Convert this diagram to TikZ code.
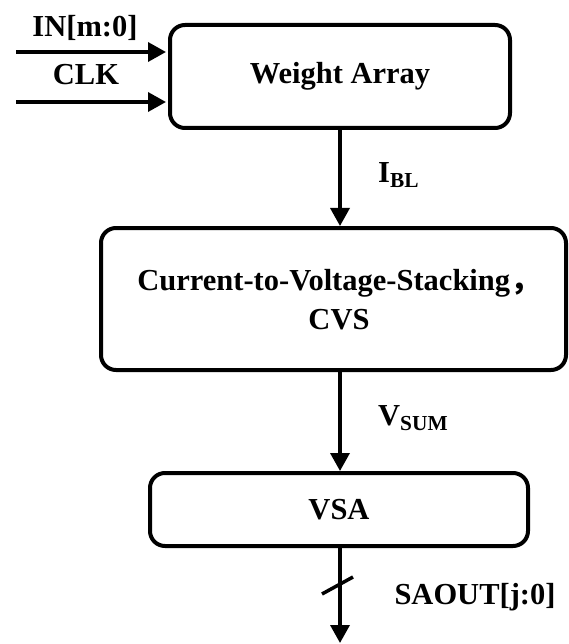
\documentclass[tikz,border=0pt]{standalone}
\usepackage{fontspec}
\setmainfont{Liberation Serif}
\newfontfamily\cjk{Noto Sans CJK SC}
\usepackage{tikz}
\usetikzlibrary{positioning,arrows.meta}

\begin{document}
\begin{tikzpicture}[
  x=1pt, y=-1pt,
  every node/.style={font=\bfseries\fontsize{30.5}{39}\selectfont, inner sep=0pt},
  block/.style={draw, line width=4pt, rounded corners=15pt, align=center},
  wire/.style={line width=3.5pt, -{Triangle[length=18pt,width=19pt]}}
]
\useasboundingbox (0,0) rectangle (568,644);
\node[block, minimum width=340pt, minimum height=103pt] (wa) at (340,76.5) {Weight Array};
\node[block, minimum width=465pt, minimum height=142pt] (cvs) at (333.5,299) {};
\node (cvstext) at (339,300) [align=center] {Current-to-Voltage-Stacking{\cjk ，}\\CVS};
\node[block, minimum width=378pt, minimum height=73pt] (vsa) at (339,509.5) {VSA};

\coordinate (in1) at (16,52);
\coordinate (in2) at (16,102);
\coordinate (out) at (340,643);
\coordinate (bus) at (338,585);

\node (inlbl) at (85,28) {IN[m:0]};
\node (clklbl) at (86,75) {CLK};
\node[anchor=west] (ibl) at (378,175) {I\textsubscript{BL}};
\node[anchor=west] (vsum) at (378,418) {V\textsubscript{SUM}};
\node (saout) at (475,597) {SAOUT[j:0]};

\draw[wire, shorten >=2pt] (in1) -- (in1 -| wa.west);
\draw[wire, shorten >=2pt] (in2) -- (in2 -| wa.west);
\draw[wire] (wa.south) -- (wa.south |- cvs.north);
\draw[wire] (wa.south |- cvs.south) -- (wa.south |- vsa.north);
\draw[wire] (vsa.south -| out) -- (out);
\draw[line width=3.5pt] ([shift={(-16,9)}]bus) -- ([shift={(15,-8)}]bus);
\end{tikzpicture}
\end{document}
